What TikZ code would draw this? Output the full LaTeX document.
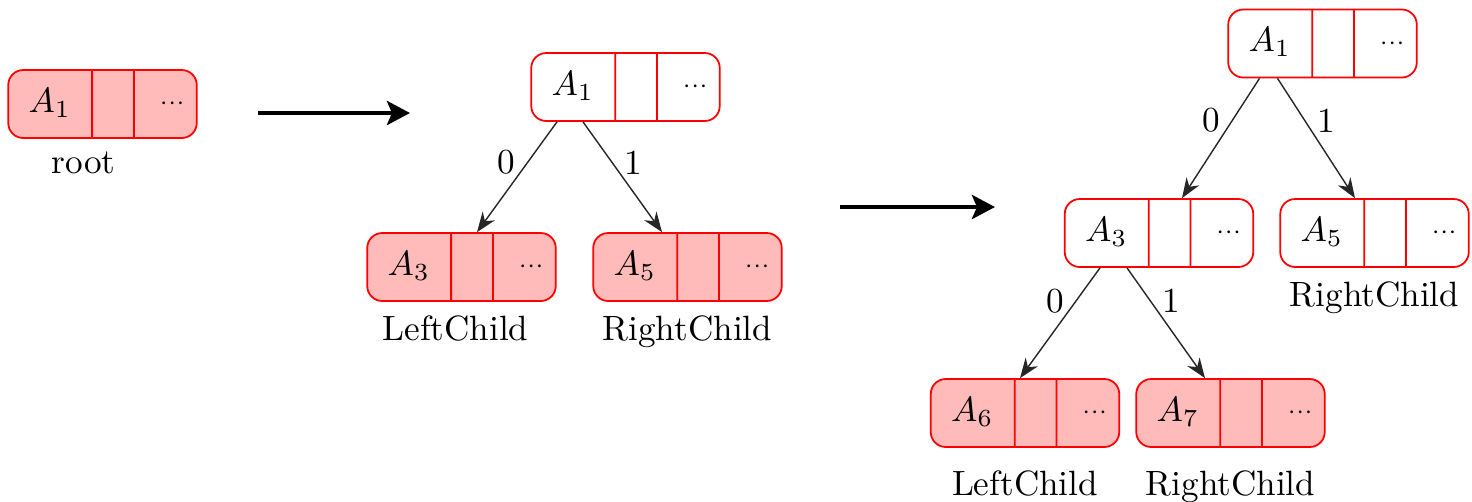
\documentclass[tikz,border=0pt]{standalone}
\usetikzlibrary{shapes.multipart,positioning,arrows.meta}

% three-field record: key, empty slot, dots
\newcommand{\recnode}[1]{\makebox[8.3mm]{\rule[-2.6mm]{0pt}{6.8mm}$#1$}\nodepart{two}\makebox[4mm]{}\nodepart{three}\makebox[6.2mm][r]{$\scriptstyle\cdots$\hspace{1.2mm}}}

\tikzset{
  rec/.style={rectangle split, rectangle split horizontal, rectangle split parts=3,
    draw=red, line width=0.5pt, rounded corners=1.5mm, inner xsep=0pt, inner ysep=0pt},
  recfull/.style={rec, fill=red!27},
  recopen/.style={rec, fill=white},
  link/.style={-{Stealth[length=2mm,width=1.5mm]}, draw=black!85},
  go/.style={line width=1.4pt, -{Stealth[length=2.3mm,width=2.4mm,inset=0.5mm]}}
}

\begin{document}
\begin{tikzpicture}
\useasboundingbox (0,0) rectangle (14.72,5.01);

% stage 1
\node[recfull] (r1) at (1.025,3.97) {\recnode{A_1}};
\node[below=0.1mm of r1, xshift=-1.9mm] (r1lab) {root};

\coordinate (g1a) at (2.58,3.88);
\coordinate (g1b) at (4.10,3.88);
\draw[go] (g1a) -- (g1b);

% stage 2
\node[recopen] (t2r) at (6.255,4.14) {\recnode{A_1}};
\node[recfull] (t2a) at (4.615,2.34) {\recnode{A_3}};
\node[recfull] (t2b) at (6.875,2.34) {\recnode{A_5}};
\node[below=0.1mm of t2a, xshift=-0.6mm] (t2alab) {LeftChild};
\node[below=0.1mm of t2b] (t2blab) {RightChild};

\draw[link] ([xshift=-6.85mm]t2r.south) -- node[pos=0.37,left] {0} ([xshift=1.55mm]t2a.north);
\draw[link] ([xshift=-4.25mm]t2r.south) -- node[pos=0.37,right] {1} ([xshift=-2.55mm]t2b.north);

\coordinate (g2a) at (8.40,2.94);
\coordinate (g2b) at (9.95,2.94);
\draw[go] (g2a) -- (g2b);

% stage 3
\node[recopen] (t3r) at (13.225,4.575) {\recnode{A_1}};
\node[recopen] (t3a) at (11.59,2.68) {\recnode{A_3}};
\node[recopen] (t3b) at (13.745,2.68) {\recnode{A_5}};
\node[recfull] (t3c) at (10.25,0.88) {\recnode{A_6}};
\node[recfull] (t3d) at (12.305,0.88) {\recnode{A_7}};
\node[below=0.1mm of t3b] (t3blab) {RightChild};
\node[below=1mm of t3c] (t3clab) {LeftChild};
\node[below=1mm of t3d] (t3dlab) {RightChild};

\draw[link] ([xshift=-6.3mm]t3r.south) -- node[pos=0.35,left] {0} ([xshift=2.3mm]t3a.north);
\draw[link] ([xshift=-4.5mm]t3r.south) -- node[pos=0.35,right] {1} ([xshift=-1.95mm]t3b.north);
\draw[link] ([xshift=-5.9mm]t3a.south) -- node[pos=0.3,left] {0} ([xshift=-0.5mm]t3c.north);
\draw[link] ([xshift=-3.2mm]t3a.south) -- node[pos=0.3,right] {1} ([xshift=-2.55mm]t3d.north);
\end{tikzpicture}
\end{document}
